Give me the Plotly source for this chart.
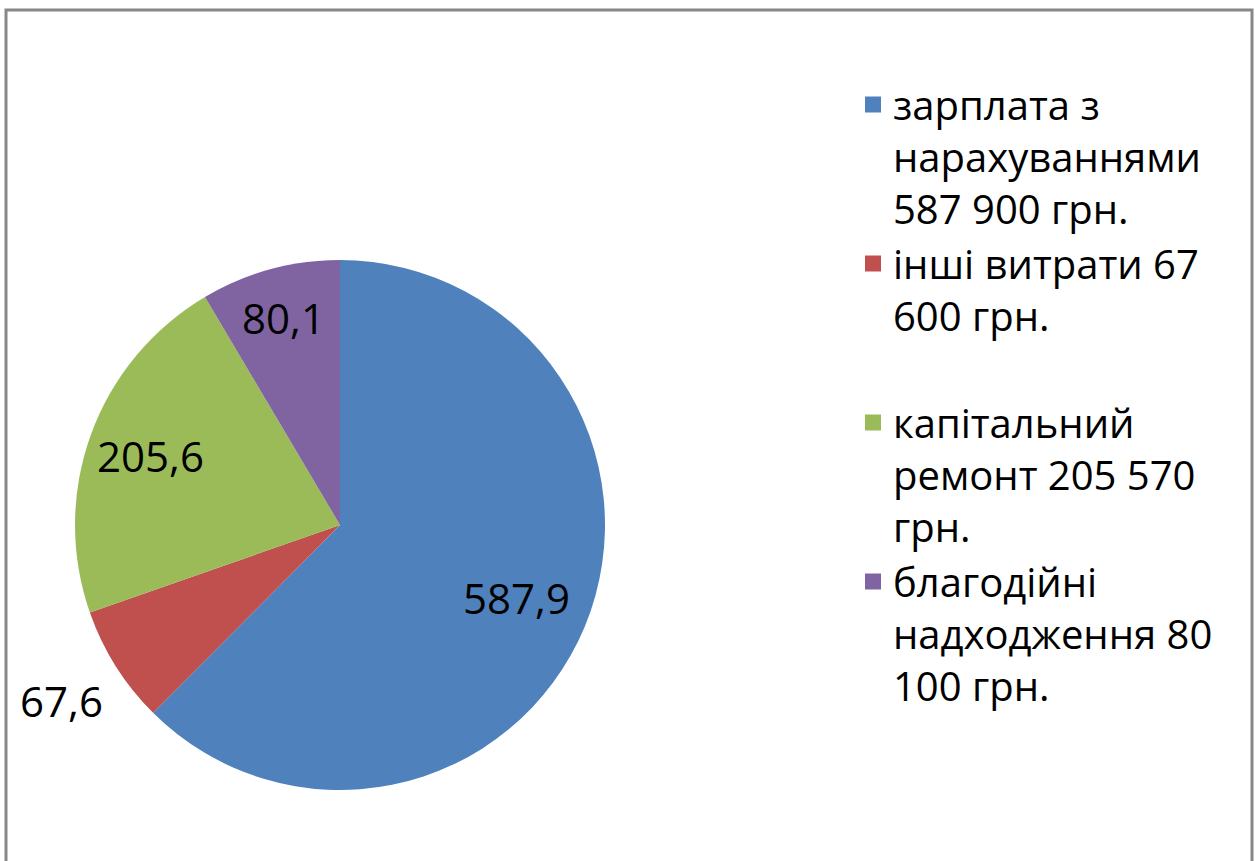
import math
import plotly.graph_objects as go

labels = [
    "зарплата з<br>нарахуваннями<br>587 900 грн.",
    "інші витрати 67<br>600 грн.<br> ",
    "капітальний<br>ремонт 205 570<br>грн.",
    "благодійні<br>надходження 80<br>100 грн.",
]
values = [587.9, 67.6, 205.6, 80.1]
value_text = ["587,9", "67,6", "205,6", "80,1"]
colors = ["#4F81BD", "#C0504D", "#9BBB59", "#8064A2"]

# label placement (style): fraction of radius from the centre for each slice label
label_radius = [0.72, 1.24, 0.76, 0.81]

W, H = 1255, 861
cx, cy, r = 340, 525, 265

fig = go.Figure(go.Pie(
    labels=labels,
    values=values,
    textinfo="none",
    marker=dict(colors=colors, line=dict(width=0)),
    sort=False,
    direction="clockwise",
    rotation=0,
    showlegend=False,
    hoverinfo="skip",
    domain=dict(x=[(cx - r) / W, (cx + r) / W], y=[(H - cy - r) / H, (H - cy + r) / H]),
))

# legend proxies (square swatches)
for lab, col in zip(labels, colors):
    fig.add_trace(go.Scatter(
        x=[None], y=[None], mode="markers", name=lab,
        marker=dict(symbol="square", size=16, color=col),
        showlegend=True, hoverinfo="skip",
    ))

# value labels at slice mid-angles
total = sum(values)
cum = 0.0
annotations = []
for v, t, f in zip(values, value_text, label_radius):
    mid = (cum + v / 2) / total * 2 * math.pi
    cum += v
    px = cx + math.sin(mid) * r * f
    py = cy - math.cos(mid) * r * f
    annotations.append(dict(
        x=px / W, y=1 - py / H, xref="paper", yref="paper",
        text=t, showarrow=False,
        font=dict(family="Open Sans", size=42, color="black"),
        xanchor="center", yanchor="middle",
    ))

fig.update_layout(
    width=W, height=H,
    margin=dict(l=0, r=0, t=0, b=0),
    paper_bgcolor="white",
    plot_bgcolor="white",
    font=dict(family="Open Sans", color="black"),
    xaxis=dict(visible=False),
    yaxis=dict(visible=False),
    annotations=annotations,
    legend=dict(
        x=853 / W, y=1 - 72 / H, xanchor="left", yanchor="top",
        font=dict(size=40, family="Open Sans", color="black"),
        tracegroupgap=0, itemwidth=30, valign="top",
        itemsizing="trace", bgcolor="rgba(0,0,0,0)",
    ),
    shapes=[dict(type="rect", xref="paper", yref="paper",
                 x0=6 / W, x1=1252 / W, y0=-0.05, y1=1 - 10 / H,
                 line=dict(color="#888888", width=3))],
)

fig.write_html("out.html", config={"displayModeBar": False},
               post_script="document.body.style.margin='0';")
